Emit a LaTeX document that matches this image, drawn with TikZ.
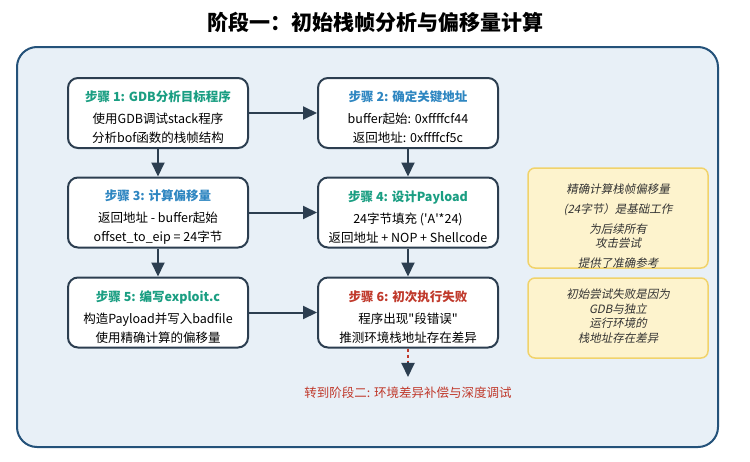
\documentclass[tikz,border=0pt]{standalone}
\usepackage{fontspec}
\setmainfont{Noto Sans CJK SC}
\newfontfamily\cjkit{Noto Sans CJK SC}[FakeSlant=0.2]
\usetikzlibrary{arrows.meta}
\definecolor{panelfill}{HTML}{E8F0F7}
\definecolor{panelline}{HTML}{24527A}
\definecolor{boxline}{HTML}{2C3E50}
\definecolor{stepteal}{HTML}{1A9E82}
\definecolor{stepblue}{HTML}{2E86C1}
\definecolor{stepred}{HTML}{C0392B}
\definecolor{notefill}{HTML}{FDF3CD}
\definecolor{noteline}{HTML}{F1D36B}
\definecolor{notetext}{HTML}{333333}
\begin{document}
\begin{tikzpicture}[x=1pt,y=-1pt,
  stepbox/.style={draw=boxline, line width=2pt, fill=white, rounded corners=10pt, minimum width=180pt, minimum height=70pt, inner sep=0pt},
  steptext/.style={align=center, font=\fontsize{12.5}{19}\selectfont, text=black, inner sep=0pt},
  arr/.style={draw=boxline, line width=2pt, -{Triangle[length=14pt,width=13pt]}},
  notebox/.style={draw=noteline, line width=1.5pt, fill=notefill, rounded corners=7pt, minimum width=180pt, inner sep=0pt},
  notetxt/.style={align=center, font=\cjkit\fontsize{11.5}{14.5}\selectfont, text=notetext, inner sep=0pt}]
\useasboundingbox (0,0) rectangle (750,461);
\node[font=\bfseries\fontsize{21}{25}\selectfont] (title) at (375,22) {阶段一：初始栈帧分析与偏移量计算};
\node[draw=panelline, line width=2pt, fill=panelfill, rounded corners=20pt, minimum width=701pt, minimum height=400pt] (panel) at (367.5,247) {};
% step boxes
\node[stepbox] (s1) at (158,113) {};
\node[stepbox] (s2) at (408,113) {};
\node[stepbox] (s3) at (158,212.5) {};
\node[stepbox] (s4) at (408,212.5) {};
\node[stepbox] (s5) at (158,312.5) {};
\node[stepbox] (s6) at (408,312.5) {};
\node[steptext] (t1) at (158,117.5) {{\bfseries\color{stepteal}步骤 1: GDB分析目标程序}\\[3pt]使用GDB调试stack程序\\分析bof函数的栈帧结构};
\node[steptext] (t2) at (408,117.5) {{\bfseries\color{stepblue}步骤 2: 确定关键地址}\\[3pt]buffer起始: 0xffffcf44\\返回地址: 0xffffcf5c};
\node[steptext] (t3) at (158,217) {{\bfseries\color{stepblue}步骤 3: 计算偏移量}\\[3pt]返回地址 - buffer起始\\offset\_to\_eip = 24字节};
\node[steptext] (t4) at (408,217) {{\bfseries\color{stepteal}步骤 4: 设计Payload}\\[3pt]24字节填充 (\textquotesingle A\textquotesingle *24)\\返回地址 + NOP + Shellcode};
\node[steptext] (t5) at (158,317) {{\bfseries\color{stepteal}步骤 5: 编写exploit.c}\\[3pt]构造Payload并写入badfile\\使用精确计算的偏移量};
\node[steptext] (t6) at (408,317) {{\bfseries\color{stepred}步骤 6: 初次执行失败}\\[3pt]程序出现\textquotedbl 段错误\textquotedbl\\推测环境栈地址存在差异};
% arrows
\draw[arr] (s1) -- (s2);
\draw[arr] (s1) -- (s3);
\draw[arr] (s2) -- (s4);
\draw[arr] (s3) -- (s4);
\draw[arr] (s3) -- (s5);
\draw[arr] (s4) -- (s6);
\draw[arr] (s5) -- (s6);
% notes
\node[notebox, minimum height=100pt] (n1) at (618,218) {};
\node[notetxt] (n1t) at (618,226) {精确计算栈帧偏移量\\[5.5pt](24字节）是基础工作\\[5.5pt]为后续所有\\攻击尝试\\[5.5pt]提供了准确参考};
\node[notebox, minimum height=80pt] (n2) at (618,318) {};
\node[notetxt, font=\cjkit\fontsize{11.5}{14.7}\selectfont] (n2t) at (618,316) {初始尝试失败是因为\\GDB与独立\\运行环境的\\栈地址存在差异};
% transition to phase 2
\node[font=\fontsize{12.5}{15}\selectfont, text=stepred, inner sep=0pt] (phasetwo) at (408,393) {转到阶段二: 环境差异补偿与深度调试};
\draw[arr, shorten >=10pt] (s6) -- (phasetwo);
\coordinate (dashend) at (408,362);
\draw[draw=panelfill, line width=3pt] (s6.south) -- (dashend);
\draw[draw=stepred, line width=2pt, dash pattern=on 3pt off 3pt] (s6.south) -- (dashend);
\end{tikzpicture}
\end{document}
